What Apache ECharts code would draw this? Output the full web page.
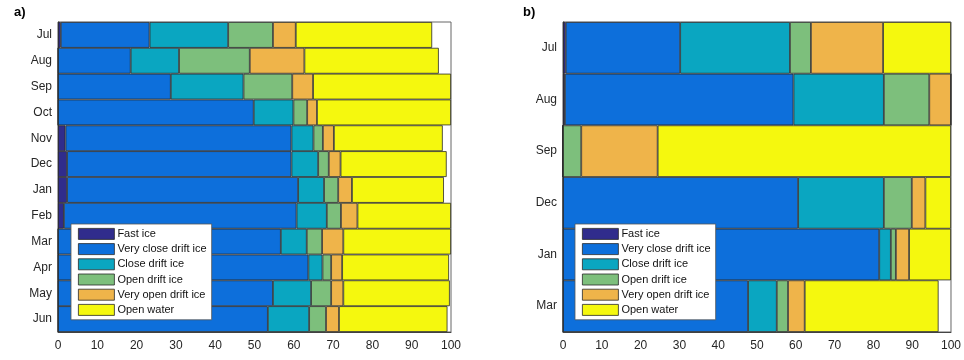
<!DOCTYPE html>
<html><head><meta charset="utf-8">
<script src="https://cdn.jsdelivr.net/npm/echarts@6/dist/echarts.min.js"></script>
<style>html,body{margin:0;padding:0;background:#fff}#c{width:964px;height:360px}</style>
</head><body><div id="c"></div>
<script>
const seriesNames = ['Fast ice','Very close drift ice','Close drift ice','Open drift ice','Very open drift ice','Open water'];
const colors = ['#302c8c','#0d6fdb','#0aa6c1','#7dbf7c','#efb44a','#f5f80e'];

// Panel a)
const monthsA = ['Jul','Aug','Sep','Oct','Nov','Dec','Jan','Feb','Mar','Apr','May','Jun'];
const fastA   = [0.7, 0,    0,    0,    1.9,  2.3,  2.3,  1.5,  0,    0,    0,    0];
const vcloseA = [22.6,18.5, 28.7, 49.8, 57.5, 57.1, 58.8, 59.2, 56.7, 63.7, 54.7, 53.4];
const closeA  = [20.0,12.3, 18.5, 10.1, 5.6,  6.8,  6.6,  7.7,  6.6,  3.6,  9.7,  10.5];
const openA   = [11.4,18.0, 12.4, 3.5,  2.4,  2.7,  3.6,  3.6,  3.9,  2.2,  5.1,  4.3];
const vopenA  = [5.8, 13.9, 5.3,  2.5,  2.8,  3.0,  3.5,  4.2,  5.4,  2.8,  3.1,  3.3];
const waterA  = [34.7,34.2, 35.1, 34.1, 27.7, 27.0, 23.4, 23.8, 27.4, 27.2, 27.1, 27.6];

// Panel b)
const monthsB = ['Jul','Aug','Sep','Dec','Jan','Mar'];
const fastB   = [0.7, 0.5,  0,    0,    0,    0];
const vcloseB = [29.5,58.9, 0,    60.6, 81.5, 47.7];
const closeB  = [28.3,23.3, 0,    22.1, 3.0,  7.4];
const openB   = [5.4, 11.7, 4.7,  7.2,  1.3,  2.9];
const vopenB  = [18.6,5.6,  19.7, 3.5,  3.4,  4.3];
const waterB  = [17.5,0,    75.6, 6.6,  10.8, 34.5];

const xTicks = [0,10,20,30,40,50,60,70,80,90,100];

const dataA = [fastA,vcloseA,closeA,openA,vopenA,waterA];
const dataB = [fastB,vcloseB,closeB,openB,vopenB,waterB];

const font = 'Liberation Sans, Arial, sans-serif';
const txt = '#262626';

function xAxis(gi){
  return {type:'value', gridIndex:gi, min:0, max:100, interval:10,
    axisLine:{show:true, lineStyle:{color:'#444'}}, axisTick:{show:false},
    splitLine:{show:false},
    axisLabel:{color:txt, fontSize:12, fontFamily:font, margin:8,
      formatter:v=> xTicks.includes(v)? String(v):''}};
}
function yAxis(gi, cats){
  return {type:'category', gridIndex:gi, data:cats, inverse:true,
    axisLine:{show:true, lineStyle:{color:'#444'}}, axisTick:{show:false},
    axisLabel:{color:txt, fontSize:12, fontFamily:font, margin:6}};
}
const series = [];
[dataA, dataB].forEach((d, gi) => {
  seriesNames.forEach((n, i) => {
    series.push({name:n, type:'bar', stack:'s'+gi, xAxisIndex:gi, yAxisIndex:gi,
      barCategoryGap:'0%', data:d[i], animation:false,
      itemStyle:{color:colors[i], borderColor:'#2a2a2a', borderWidth:0.8}});
  });
});
function legend(left){
  return {data:seriesNames, orient:'vertical', left:left, top:224, icon:'rect',
    itemWidth:36, itemHeight:11, itemGap:3.4, padding:[4,5,4,7],
    backgroundColor:'#fff', borderColor:'#555', borderWidth:0.8,
    itemStyle:{borderColor:'#2a2a2a', borderWidth:0.8},
    textStyle:{color:'#111', fontSize:11, fontFamily:font, padding:[0,0,0,-2]},
    selectedMode:false};
}
const chart = echarts.init(document.getElementById('c'), null, {renderer:'canvas'});
chart.setOption({
  animation:false,
  backgroundColor:'#fff',
  title:[
    {text:'a)', left:9, top:1, textStyle:{fontSize:13, fontWeight:'bold', color:'#000', fontFamily:font}},
    {text:'b)', left:518, top:1, textStyle:{fontSize:13, fontWeight:'bold', color:'#000', fontFamily:font}}
  ],
  grid:[
    {left:58, top:22, width:393, height:310, show:true, borderColor:'#666', borderWidth:1},
    {left:563, top:22, width:392, height:310, show:true, borderColor:'#666', borderWidth:1}
  ],
  xAxis:[xAxis(0), xAxis(1)],
  yAxis:[yAxis(0, monthsA), yAxis(1, monthsB)],
  legend:[legend(71), legend(575)],
  series:series
});
</script></body></html>
